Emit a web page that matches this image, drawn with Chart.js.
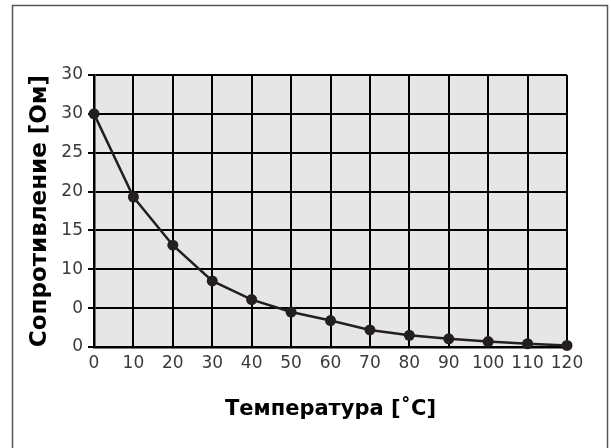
<!DOCTYPE html>
<html>
<head>
<meta charset="utf-8">
<script src="https://cdn.jsdelivr.net/npm/chart.js@4/dist/chart.umd.min.js"></script>
<style>
  html, body { margin: 0; padding: 0; background: #fff; }
  #wrap { width: 611px; height: 448px; position: relative; }
</style>
</head>
<body>
<div id="wrap"><canvas id="chart" width="611" height="448"></canvas></div>
<script>
// Data
const temperatures = [0, 10, 20, 30, 40, 50, 60, 70, 80, 90, 100, 110, 120];
const resistance = [30, 19.3, 13.1, 8.5, 6.1, 4.5, 3.4, 2.2, 1.5, 1.05, 0.7, 0.42, 0.2];
const yTickLabels = ['0', '0', '10', '15', '20', '25', '30', '30'];

const xTitle = 'Температура [˚C]';
const yTitle = 'Сопротивление [Ом]';

// Frame + grey plot background
const framePlugin = {
    id: 'frame',
    beforeDraw(chart) {
        const { ctx, chartArea } = chart;
        ctx.save();
        ctx.fillStyle = '#ffffff';
        ctx.fillRect(0, 0, chart.width, chart.height);
        ctx.strokeStyle = '#555555';
        ctx.lineWidth = 1.5;
        ctx.strokeRect(12.5, 5.5, 595, 470);
        ctx.fillStyle = '#e6e6e6';
        ctx.fillRect(chartArea.left, chartArea.top, chartArea.right - chartArea.left, chartArea.bottom - chartArea.top);
        ctx.restore();
    }
};

const tickFont = { family: 'DejaVu Sans, sans-serif', size: 17 };

new Chart(document.getElementById('chart'), {
    type: 'line',
    data: {
        datasets: [{
            data: temperatures.map((t, i) => ({ x: t, y: resistance[i] })),
            borderColor: '#231f20',
            backgroundColor: '#231f20',
            borderWidth: 2.5,
            pointRadius: 5.5,
            pointBorderWidth: 0,
            tension: 0,
            clip: false
        }]
    },
    options: {
        responsive: false,
        animation: false,
        layout: { padding: { top: 75, left: 0, right: 44, bottom: 0 } },
        plugins: { legend: { display: false }, tooltip: { enabled: false } },
        scales: {
            x: {
                type: 'linear',
                min: 0,
                max: 120,
                afterFit: s => { s.height = 101; },
                ticks: { stepSize: 10, color: '#3a3a3a', font: tickFont, padding: 6, maxRotation: 0, autoSkip: false },
                grid: { color: '#000', lineWidth: 2, drawTicks: false },
                border: { color: '#000', width: 2.5 },
                title: {
                    display: true, text: xTitle, color: '#000',
                    font: { family: 'DejaVu Sans, sans-serif', size: 21, weight: 'bold' },
                    padding: { top: 0, bottom: 26 }
                }
            },
            y: {
                min: 0,
                max: 35,
                afterFit: s => { s.width = 94; },
                ticks: {
                    stepSize: 5,
                    color: '#3a3a3a',
                    font: tickFont,
                    padding: 5,
                    callback: (v, i) => yTickLabels[i]
                },
                grid: { color: '#000', lineWidth: 2, tickLength: 6 },
                border: { color: '#000', width: 2.5 },
                title: {
                    display: true, text: yTitle, color: '#000',
                    font: { family: 'DejaVu Sans, sans-serif', size: 23, weight: 'bold' },
                    padding: { top: 26, bottom: 0 }
                }
            }
        }
    },
    plugins: [framePlugin]
});
</script>
</body>
</html>
